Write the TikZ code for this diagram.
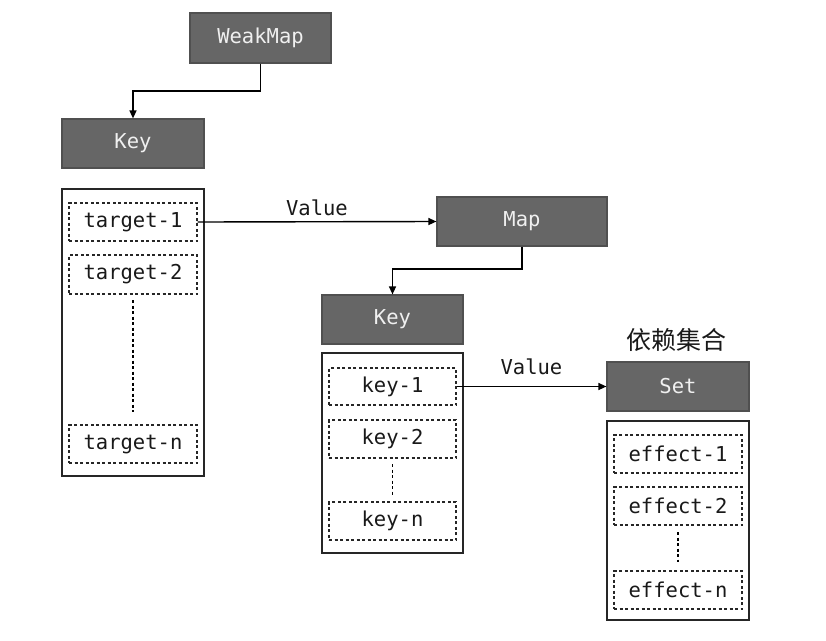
\documentclass[tikz,border=0pt]{standalone}
\usepackage{fontspec}
\setmonofont{DejaVu Sans Mono}
\newfontfamily\cjk{Noto Sans CJK SC}
\usetikzlibrary{arrows.meta}
\definecolor{boxgray}{HTML}{666666}
\definecolor{boxedge}{HTML}{505050}
\tikzset{
  hdr/.style={draw=boxedge, line width=1.2pt, fill=boxgray, text=white!94!black, font=\ttfamily\fontsize{20.5}{21}\selectfont},
  outer/.style={draw=black!85, line width=1.5pt},
  item/.style={draw=black!85, dashed, dash pattern=on 3pt off 2.5pt, line width=1.1pt, font=\ttfamily\fontsize{20.5}{21}\selectfont, text=black!90},
  conn/.style={line width=1.4pt, -{Triangle[length=8pt,width=7pt]}},
  dots/.style={line width=1.3pt, dash pattern=on 3pt off 2.5pt},
  lbl/.style={font=\ttfamily\fontsize{20.5}{21}\selectfont, text=black!90}
}
\begin{document}
\begin{tikzpicture}[x=1pt,y=-1pt]
\useasboundingbox[fill=white] (0,0) rectangle (826,640);
% column 1
\node[hdr, minimum width=141pt, minimum height=50pt] (wm) at (260.5,38) {WeakMap};
\node[hdr, minimum width=142pt, minimum height=49pt] (k1) at (133,143.5) {Key};
\node[outer, minimum width=142pt, minimum height=287pt] (o1) at (133,332.5) {};
\node[item, minimum width=128pt, minimum height=38pt] (t1) at (133,222) {target-1};
\node[item, minimum width=128pt, minimum height=39pt] (t2) at (133,274.5) {target-2};
\node[item, minimum width=128pt, minimum height=38pt] (tn) at (133,444) {target-n};
\coordinate (d1a) at (133,300);
\coordinate (d1b) at (133,412);
\draw[dots] (d1a) -- (d1b);
% column 2
\node[hdr, minimum width=170pt, minimum height=49pt] (map) at (522,221.5) {Map};
\node[hdr, minimum width=141pt, minimum height=49pt] (k2) at (392.5,319.5) {Key};
\node[outer, minimum width=141pt, minimum height=200pt] (o2) at (392.5,453) {};
\node[item, minimum width=127pt, minimum height=37pt] (y1) at (392.5,386.5) {key-1};
\node[item, minimum width=127pt, minimum height=38pt] (y2) at (392.5,439) {key-2};
\node[item, minimum width=127pt, minimum height=38pt] (yn) at (392.5,521) {key-n};
\coordinate (d2a) at (392.5,464);
\coordinate (d2b) at (392.5,495);
\draw[dots] (d2a) -- (d2b);
% column 3
\node[font=\cjk\fontsize{25}{26}\selectfont, text=black!90] (cap) at (676,340) {依赖集合};
\node[hdr, minimum width=142pt, minimum height=49pt] (set) at (678,386.5) {Set};
\node[outer, minimum width=142pt, minimum height=199pt] (o3) at (678,520.5) {};
\node[item, minimum width=128pt, minimum height=38pt] (e1) at (678,454) {effect-1};
\node[item, minimum width=128pt, minimum height=38pt] (e2) at (678,506) {effect-2};
\node[item, minimum width=128pt, minimum height=38pt] (en) at (678,590) {effect-n};
\coordinate (d3a) at (678,532);
\coordinate (d3b) at (678,562);
\draw[dots] (d3a) -- (d3b);
% connectors
\draw[conn] (wm.south) |- (133,91) -- (k1.north);
\draw[conn] (t1.east) -- node[lbl, above=2pt] {Value} (map.west);
\draw[conn] (map.south) |- (392.5,269) -- (k2.north);
\draw[conn] (y1.east) -- node[lbl, above=8pt] {Value} (set.west);
\end{tikzpicture}
\end{document}
